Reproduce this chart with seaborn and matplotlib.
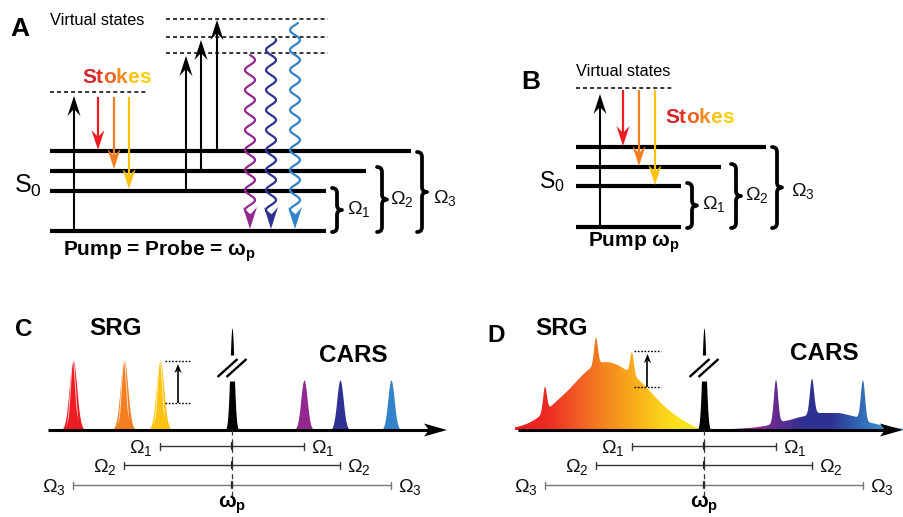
import numpy as np
import matplotlib
matplotlib.use("Agg")
import matplotlib.pyplot as plt
import seaborn as sns
from matplotlib.path import Path
from matplotlib.patches import PathPatch, Polygon
from matplotlib.colors import LinearSegmentedColormap

sns.set_theme(style="white")
plt.rcParams["font.family"] = ["Liberation Sans", "DejaVu Sans"]
plt.rcParams["text.color"] = "black"
plt.rcParams["mathtext.fontset"] = "custom"
plt.rcParams["mathtext.rm"] = "Liberation Sans"
plt.rcParams["mathtext.it"] = "Liberation Sans:italic"
plt.rcParams["mathtext.bf"] = "Liberation Sans:bold"

# ---------------------------------------------------------------- data
RED, ORANGE, YELLOW = "#ED1C24", "#F47D20", "#FFC20E"
PURPLE, NAVY, BLUE = "#92278F", "#2E3192", "#3182CA"
# colours follow the modes in order of increasing Raman shift
stokes_colors = [YELLOW, ORANGE, RED]
antistokes_colors = [PURPLE, NAVY, BLUE]
stokes_letters = list("Stokes")
stokes_letter_colors = ["#D3262C", "#E2352A", "#EC6424", "#F28A1F", "#FCC314", "#FFD000"]

# Raman shifts of the three vibrational modes (diagram units)
raman_shift = [72, 108, 159]

# level diagrams: y of the three excited levels + ground, right ends
levels_A = [151, 171, 191, 231]
levels_A_end = [411, 366, 326, 326]
levels_B = [147, 167, 186, 227]
levels_B_end = [766, 721, 681, 681]

# panel C: narrow-band peak heights
srg_gain_height = 70
srg_probe_height = 26
cars_height_C = 50
pump_height = 102

# panel D: broadband SRG envelope (shift, height) and gain spikes
srg_env_shift = [-189, -176, -164, -156, -146, -132, -122, -112, -104, -96,
                 -89, -82, -72, -62, -49, -36, -22, -9, -4]
srg_env_height = [2, 6, 13, 21, 30, 43, 55, 64, 68, 69,
                  67, 63, 56, 48, 33, 20, 10, 3, 0]
srg_spike_height = [25, 27, 22]          # for shifts 159, 108, 72
# panel D: broadband CARS envelope and resonant spikes
cars_env_shift = [3, 29, 49, 63, 68, 76, 86, 96, 102, 110, 136, 153, 162, 168, 181, 193, 200]
cars_env_height = [0, 1, 2.3, 4.3, 6, 8, 10, 13, 14, 17, 17, 13, 8, 7, 4, 2, 1]
cars_spike_height = [43, 35, 40]         # for shifts 72, 108, 159

# ---------------------------------------------------------------- canvas
fig = plt.figure(figsize=(9.04, 5.17), dpi=100)
ax = fig.add_axes([0, 0, 1, 1])
ax.set_xlim(0, 904)
ax.set_ylim(517, 0)
ax.axis("off")


def arrow(x, y_from, y_to, color, lw=1.5, L=20, W=6.5, N=7, z=4):
    d = np.sign(y_to - y_from)
    y_notch = y_to - d * (L - N)
    ax.plot([x, x], [y_from, y_notch], color=color, lw=lw, solid_capstyle="butt", zorder=z)
    pts = [(x, y_to), (x + W, y_to - d * L), (x, y_notch), (x - W, y_to - d * L)]
    ax.add_patch(Polygon(pts, closed=True, fc=color, ec="none", zorder=z))


def wavy(xc, y_start, y_tip, color, amp=5, period=20, L=22, W=7, N=8):
    y_end = y_tip - (L - N)
    ys = np.linspace(y_start, y_end, 400)
    xs = xc + amp * np.sin(2 * np.pi * (ys - y_end) / period)
    sns.lineplot(x=xs, y=ys, sort=False, estimator=None, color=color, lw=1.6, ax=ax, zorder=5)
    pts = [(xc, y_tip), (xc + W, y_tip - L), (xc, y_end), (xc - W, y_tip - L)]
    ax.add_patch(Polygon(pts, closed=True, fc=color, ec="none", zorder=5))


def brace(x0, y1, y2, w=10, lw=2.7):
    ym = (y1 + y2) / 2
    h = w / 2
    r = min(h, (y2 - y1) / 4)
    verts = [(x0, y1), (x0 + h, y1), (x0 + h, y1 + r), (x0 + h, ym - r),
             (x0 + h, ym), (x0 + w, ym), (x0 + h, ym), (x0 + h, ym + r),
             (x0 + h, y2 - r), (x0 + h, y2), (x0, y2)]
    C3, LT = Path.CURVE3, Path.LINETO
    codes = [Path.MOVETO, C3, C3, LT, C3, C3, C3, C3, LT, C3, C3]
    ax.add_patch(PathPatch(Path(verts, codes), fc="none", ec="black", lw=lw,
                           capstyle="round", joinstyle="round", zorder=4))


def omega(x, yc, n, ha="left", size=14):
    ax.text(x, yc + 7, rf"$\mathregular{{\Omega_{n}}}$", ha=ha, va="baseline",
            fontsize=size, color="#111111", zorder=6)


def rainbow_word(x, y, size):
    t = ax.text(x, y, stokes_letters[0], color=stokes_letter_colors[0], fontsize=size,
                fontweight="bold", ha="left", va="baseline", zorder=6)
    for ch, c in zip(stokes_letters[1:], stokes_letter_colors[1:]):
        t = ax.annotate(ch, xy=(1, 0), xycoords=t, color=c, fontsize=size,
                        fontweight="bold", ha="left", va="bottom", zorder=6)


def dashed(x0, x1, y):
    ax.plot([x0, x1], [y, y], color="black", lw=1.1, ls=(0, (2.6, 2.0)), zorder=3)


def levels(x0, ys, ends):
    for y, xe in zip(ys, ends):
        ax.plot([x0, xe], [y, y], color="black", lw=3.0, solid_capstyle="butt", zorder=3)


# ---------------------------------------------------------------- panel A
ax.text(10, 36, "A", fontsize=19, fontweight="bold")
ax.text(50, 25, "Virtual states", fontsize=11.8)
for y in (19, 37, 53):
    dashed(166, 328, y)
dashed(50, 147, 92)
rainbow_word(82, 83, 15)
levels(50, levels_A, levels_A_end)
arrow(74, levels_A[3], 96, "black")
for x, y_tip, c in zip((98, 114, 129), (150, 169, 189), stokes_colors[::-1]):
    arrow(x, 97, y_tip, c, lw=1.6)
for x, y0, y_tip in zip((186, 201, 217), (191, 171, 151), (56, 40, 20)):
    arrow(x, y0, y_tip, "black")
for xc, y0, c in zip((250, 271, 295), (55, 39, 23), antistokes_colors):
    wavy(xc, y0, 229, c)
ax.text(14, 193, r"$\mathregular{S_0}$", fontsize=18)
brace(332, 188, 232)
brace(377, 167, 232)
brace(417, 152, 232)
omega(347, 207, 1)
omega(390, 197, 2)
omega(433, 196, 3)
ax.text(63, 256, r"Pump = Probe = $\mathbf{\omega_p}$", fontsize=15, fontweight="bold")

# ---------------------------------------------------------------- panel B
ax.text(521, 89, "B", fontsize=19, fontweight="bold")
ax.text(576, 76, "Virtual states", fontsize=11.8)
dashed(576, 672, 88)
levels(576, levels_B, levels_B_end)
arrow(600, levels_B[3], 94, "black")
for x, y_tip, c in zip((623, 639, 655), (146, 166, 185), stokes_colors[::-1]):
    arrow(x, 90, y_tip, c, lw=1.6)
rainbow_word(665, 123, 15)
ax.text(539, 188, r"$\mathregular{S_0}$", fontsize=16.5)
brace(687, 183, 228)
brace(731, 164, 228)
brace(772, 147, 228)
omega(702, 202, 1)
omega(745, 193, 2)
omega(791, 189, 3)
ax.text(588, 247, r"Pump $\mathbf{\omega_p}$", fontsize=15, fontweight="bold")

# ---------------------------------------------------------------- spectra helpers
BASE = 430


def gauss(x, c, h, s):
    return h * np.exp(-0.5 * ((x - c) / s) ** 2)


def pump_peak(xp):
    xs = np.linspace(xp - 12, xp + 12, 400)
    g = gauss(xs, xp, pump_height, 2.1)
    low = np.minimum(g, 49)
    ax.fill_between(xs, BASE, BASE - low, color="black", lw=0, zorder=2)
    ax.fill_between(xs, BASE - 75, BASE - g, where=g > 75, interpolate=True,
                    color="black", lw=0, zorder=2)
    for dx in (-4.5, 4.5):
        ax.plot([xp + dx - 10, xp + dx + 10], [377, 359], color="black", lw=1.7,
                solid_capstyle="butt", zorder=3)


def axis_arrow(x0, x_tip):
    L, W, N = 23, 6.5, 5
    ax.plot([x0, x_tip - L + N], [BASE, BASE], color="black", lw=2.2, zorder=3,
            solid_capstyle="butt")
    pts = [(x_tip, BASE), (x_tip - L, BASE - W), (x_tip - L + N, BASE), (x_tip - L, BASE + W)]
    ax.add_patch(Polygon(pts, closed=True, fc="black", ec="none", zorder=3))


def shift_bars(xp, label_gap=7):
    bar_y = [446, 465, 485]
    bar_c = ["#333333", "#333333", "#777777"]
    for i, (s, y, c) in enumerate(zip(raman_shift, bar_y, bar_c)):
        x0, x1 = xp - s, xp + s
        ax.plot([x0, x1], [y, y], color=c, lw=1.0, zorder=3)
        for xx in (x0, x1):
            ax.plot([xx, xx], [y - 3.5, y + 3.5], color=c, lw=1.0, zorder=3)
        ax.plot([xp, xp], [y - 3, y + 3], color="#222222", lw=1.6, zorder=3)
        omega(x0 - label_gap, y, i + 1, ha="right")
        omega(x1 + label_gap, y, i + 1, ha="left")
    ax.plot([xp, xp], [BASE, 497], color="#333333", lw=0.9, ls=(0, (4, 3)), zorder=3)
    ax.text(xp, 508, r"$\mathbf{\omega_p}$", fontsize=15, ha="center", va="baseline")


def ref_marks(x0, x1, y_top, y_bot):
    for y in (y_top, y_bot):
        ax.plot([x0, x1], [y, y], color="black", lw=1.0, ls=(0, (1.2, 1.2)), zorder=3)
    xm = (x0 + x1) / 2
    arrow(xm, y_bot, y_top + 3, "black", lw=1.2, L=9, W=3.6, N=2.5)


# ---------------------------------------------------------------- panel C
ax.text(15, 336, "C", fontsize=17.5, fontweight="bold")
ax.text(89, 335, "SRG", fontsize=17.5, fontweight="bold")
ax.text(319, 362, "CARS", fontsize=17.5, fontweight="bold")
pump_C = 232
for s, c in zip(raman_shift, stokes_colors):
    xc = pump_C - s
    xs = np.linspace(xc - 15, xc + 15, 300)
    ax.fill_between(xs, BASE, BASE - gauss(xs, xc, srg_gain_height, 3.8), color=c, lw=0, zorder=2)
    sns.lineplot(x=xs, y=BASE - gauss(xs, xc, srg_gain_height, 2.5), sort=False,
                 estimator=None, color="white", lw=0.7, alpha=0.75, ax=ax, zorder=2)
    ax.fill_between(xs, BASE, BASE - gauss(xs, xc, srg_probe_height, 3.8), color=c, lw=0, zorder=2)
for s, c in zip(raman_shift, antistokes_colors):
    xc = pump_C + s
    xs = np.linspace(xc - 12, xc + 12, 300)
    ax.fill_between(xs, BASE, BASE - gauss(xs, xc, cars_height_C, 3.2), color=c, lw=0, zorder=2)
pump_peak(pump_C)
axis_arrow(48, 447)
ref_marks(165, 191, 361, 403)
shift_bars(pump_C)

# ---------------------------------------------------------------- panel D
ax.text(487, 342, "D", fontsize=17.5, fontweight="bold")
ax.text(535, 335, "SRG", fontsize=17.5, fontweight="bold")
ax.text(790, 360, "CARS", fontsize=17.5, fontweight="bold")
pump_D = 704


def gradient_band(env_shift, env_h, spike_shifts, spike_h, sig, x0, x1, colors, smooth=4.0):
    xs = np.linspace(x0, x1, 1200)
    step = xs[1] - xs[0]
    sh = xs - pump_D
    env = np.interp(sh, env_shift, env_h, left=0, right=0)
    # soften the corners of the sampled envelope
    k = np.arange(-4 * smooth, 4 * smooth + step, step)
    kern = np.exp(-0.5 * (k / smooth) ** 2)
    kern /= kern.sum()
    pad = len(k) // 2
    env = np.convolve(np.pad(env, pad, mode="edge"), kern, mode="same")[pad:pad + len(xs)]
    total = env.copy()
    for s, h in zip(spike_shifts, spike_h):
        total = total + gauss(sh, s, h, sig)
    verts = np.column_stack([np.r_[xs, x1, x0], np.r_[BASE - total, BASE, BASE]])
    patch = Polygon(verts, closed=True, fc="none", ec="none")
    ax.add_patch(patch)
    cmap = LinearSegmentedColormap.from_list("band", colors)
    im = ax.imshow(np.linspace(0, 1, 256)[None, :], cmap=cmap, aspect="auto",
                   extent=(x0, x1, BASE + 1, BASE - 110), zorder=2, interpolation="bilinear")
    im.set_clip_path(patch)


gradient_band(srg_env_shift, srg_env_height, [-159, -108, -72], srg_spike_height, 1.9,
              515, 701, ["#ED1C24", "#EE2A24", "#F15A25", "#F58A1F", "#F9B41A", "#FBDC1A", "#F6EC20"],
              smooth=6.0)
gradient_band(cars_env_shift, cars_env_height, [72, 108, 159], cars_spike_height, 2.1,
              707, 904, ["#B35AA8", "#92278F", "#92278F", "#5A2D90", "#2E3192", "#2E3192",
                         "#2F5FAE", "#3A86CC", "#4A93D4"], smooth=2.0)
pump_peak(pump_D)
axis_arrow(518, 903)
ref_marks(634, 661, 351, 387)
shift_bars(pump_D)

ax.set_xlim(0, 904)
ax.set_ylim(517, 0)
fig.savefig("out.png", dpi=100)
